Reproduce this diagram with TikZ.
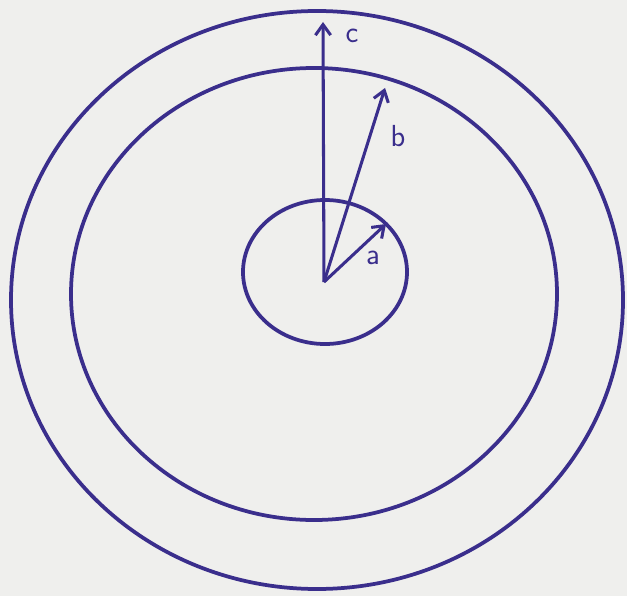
\documentclass[tikz,border=0pt]{standalone}
\usepackage{tikz}
\usetikzlibrary{arrows.meta}
\definecolor{colPEN}{RGB}{58,46,140}
\definecolor{colPAPER}{RGB}{239,239,237}

\begin{document}
\begin{tikzpicture}[x=0.03cm, y=-0.03cm,
    ring/.style={colPEN, line width=3.2pt},
    radius/.style={colPEN, line width=2.6pt, -{Straight Barb[length=9pt,width=13pt,line width=2.6pt]}},
    every node/.style={colPEN, font=\fontsize{26}{30}\selectfont\sffamily}]
      % --- paper ---
      \fill[colPAPER] (0,0) rectangle (627,596);
      \useasboundingbox (0,0) rectangle (627,596);
      % --- three rings ---
      \draw[ring] (325,272) ellipse [x radius=82, y radius=72];
      \draw[ring] (314,294) ellipse [x radius=243, y radius=226];
      \draw[ring] (317,300) ellipse [x radius=306, y radius=289];
      % --- radii ---
      \coordinate (O) at (324,282);
      \coordinate (tipA) at (386,224);
      \coordinate (tipB) at (385,88);
      \coordinate (tipC) at (323,22);
      \draw[radius] (O) -- (tipA);
      \draw[radius] (O) -- (tipB);
      \draw[radius] (O) -- (tipC);
      \node (labA) at (373,258) {a};
      \node (labB) at (398,136) {b};
      \node (labC) at (352,36) {c};
\end{tikzpicture}
\end{document}
